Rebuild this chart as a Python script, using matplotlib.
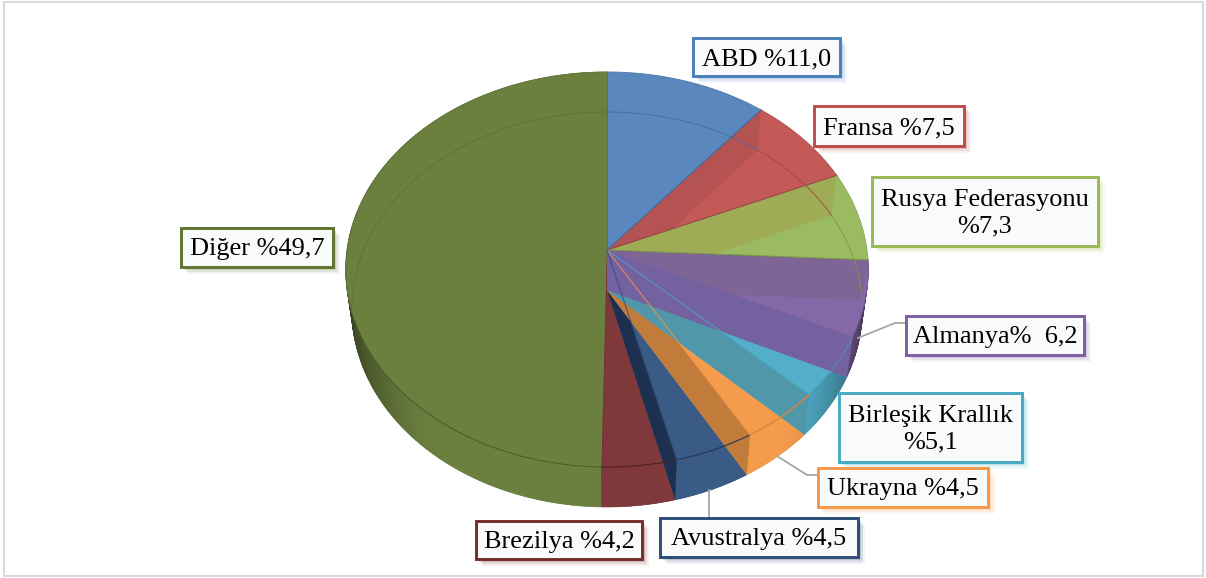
import numpy as np
import matplotlib
matplotlib.use("Agg")
import matplotlib.pyplot as plt
from matplotlib.colors import to_rgb
from matplotlib.patches import Polygon, Rectangle

# data, clockwise from the top
countries = ['ABD', 'Fransa', 'Rusya Federasyonu', 'Almanya', 'Birleşik Krallık', 'Ukrayna', 'Avustralya', 'Brezilya', 'Diğer']
shares = [11.0, 7.5, 7.3, 6.2, 5.1, 4.5, 4.5, 4.2, 49.7]
label_texts = ['ABD %11,0', 'Fransa %7,5', 'Rusya Federasyonu\n%7,3', 'Almanya%  6,2', 'Birleşik Krallık\n%5,1',
               'Ukrayna %4,5', 'Avustralya %4,5', 'Brezilya %4,2', 'Diğer %49,7']

# styles
top_colors = ['#5a87bd', '#c45a58', '#9bbb62', '#8568a8', '#52aec9', '#f49c4c', '#3a5b86', '#7f393b', '#6b7f3f']
start_band_colors = ['#5a87bd', '#b45352', '#9fac56', '#7f6596', '#52aec9', '#f49c4c', '#3a5b86', '#7f393b', '#6b7f3f']
end_band_colors = ['#5a87bd', '#c45a58', '#9bbb62', '#7461a0', '#5097a9', '#c17c3c', '#1d3050', '#74343a', '#6b7f3f']
edge_colors = ['#4a7ebb', '#be4b48', '#98b954', '#7d60a0', '#46aac5', '#f79646', '#2c4d75', '#772c2a', '#5f7530']

# box left, top, right, bottom in pixels
boxes = [(693, 38, 840, 76), (814, 106, 964, 146), (872, 177, 1098, 246), (906, 316, 1084, 355),
         (839, 393, 1022, 462), (818, 468, 988, 507), (660, 518, 858, 557), (476, 521, 642, 559), (181, 228, 333, 267)]
leaders = [([906, 895, 858], [323, 323, 338]), ([818, 807, 777], [475, 475, 456]), ([709, 709], [518, 490])]

cx = 607
top_cy = 250
bot_cy = 290
depth_k = 0.0987
ry = 195.6


def rim(theta, cy, rx):
    # perspective circle, the far side comes out smaller
    t = np.radians(theta)
    w = 1 + depth_k * np.cos(t)
    return cx + rx * np.sin(t) / w, cy - ry * np.cos(t) / w


def top_rim(theta):
    return rim(theta, top_cy, 260)


def bot_rim(theta):
    return rim(theta, bot_cy, 254)


def wedge(t0, t1, rim_func, cy):
    ts = np.linspace(t0, t1, 60)
    x, y = rim_func(ts)
    return np.column_stack([np.r_[cx, x], np.r_[cy, y]])


def shade(color, f):
    return tuple(min(1, c * f) for c in to_rgb(color))


def wall_shade(theta):
    s = abs(np.sin(np.radians(theta)))
    return 1 - 0.5 * max(0, (s - 0.62) / 0.38) ** 1.5


edges = np.r_[0, np.cumsum(shares)] / sum(shares) * 360
last = len(shares) - 1

fig = plt.figure(figsize=(12.06, 5.78), dpi=100)
ax = fig.add_axes([0, 0, 1, 1])
ax.set_xlim(0, 1206)
ax.set_ylim(578, 0)
ax.axis('off')

ax.add_patch(Rectangle((3.5, 1.5), 1199, 574, fc='white', ec='#d9d9d9', lw=1.5))

# far slices last would hide the walls, so paint Diğer first and go back round to ABD
for i in range(last, -1, -1):
    t0, t1 = edges[i], edges[i + 1]
    col = top_colors[i]
    front = t1 > 100

    if front:
        ax.add_patch(Polygon(wedge(t0, t1, bot_rim, bot_cy), fc=col, ec='none', zorder=2))
        # outer wall, thin strips so it can get darker towards the sides
        ts = np.linspace(t0, t1, max(int(t1 - t0), 2) + 1)
        for a, b in zip(ts[:-1], ts[1:]):
            x0, y0 = top_rim(a)
            x1, y1 = top_rim(b)
            x2, y2 = bot_rim(b)
            x3, y3 = bot_rim(a)
            c = shade(col, wall_shade((a + b) / 2))
            ax.add_patch(Polygon([(x0, y0), (x1, y1), (x2, y2), (x3, y3)], fc=c, ec=c, lw=0.4, zorder=2))

    top_patch = Polygon(wedge(t0, t1, top_rim, top_cy), fc=col, ec='none', zorder=2)
    ax.add_patch(top_patch)

    # wall on the start side, only seen through the top of the slice
    if t0 < 100 and i > 0:
        tx, ty = top_rim(t0)
        bx, by = bot_rim(t0)
        band = Polygon([(cx, top_cy), (tx, ty), (bx, by), (cx, bot_cy)], fc=start_band_colors[i], ec='none', zorder=2)
        ax.add_patch(band)
        band.set_clip_path(top_patch)

    # wall on the end side, on top of the next slice
    if 100 < t1 < 200:
        tx, ty = top_rim(t1)
        bx, by = bot_rim(t1)
        ax.add_patch(Polygon([(cx, top_cy), (tx, ty), (bx, by), (cx, bot_cy)], fc=end_band_colors[i], ec='none', zorder=2))

    # thin outlines
    if i == last:
        x, y = top_rim(np.linspace(t0, 250, 60))
        ax.plot(x, y, color=shade(col, 0.7), lw=0.7, zorder=3)
        x, y = top_rim(np.linspace(250, t1, 60))
        ax.plot(x, y, color=shade(col, 0.92), lw=0.6, zorder=3)
    elif t0 >= 130:
        x, y = top_rim(np.linspace(t0, t1, 60))
        ax.plot(x, y, color=shade(col, 0.6), lw=0.8, zorder=3)
    else:
        x, y = top_rim(np.linspace(t0, t1, 60))
        ax.plot(x, y, color=shade(col, 0.88), lw=0.6, zorder=3)
    for t in (t0, t1):
        tx, ty = top_rim(t)
        if t < 100:
            ax.plot([cx, tx], [top_cy, ty], color=shade(col, 0.8), lw=0.8, zorder=2)
    if t1 < 100:
        x, y = bot_rim(np.linspace(t0, t1, 60))
        ax.plot(x, y, color=shade(col, 0.8), lw=0.6, zorder=3)
    if i == last:
        x, y = bot_rim(np.linspace(265, t1, 60))
        ax.plot(x, y, color=shade(col, 0.88), lw=0.6, zorder=3)

# edges of the lower slices, they show through the slices above them
for i in range(3, 7):
    tx, ty = top_rim(edges[i + 1])
    ax.plot([cx, tx], [top_cy, ty], color=edge_colors[i], lw=0.9, alpha=0.7, zorder=4)
    if i == 5:
        x, y = top_rim(np.linspace(edges[i], edges[i + 1], 30))
        ax.plot(x, y, color=edge_colors[i], lw=0.9, alpha=0.8, zorder=4)

for (xs, ys) in leaders:
    ax.plot(xs, ys, color='#a6a6a6', lw=1.3, zorder=5)

for i, (l, t, r, b) in enumerate(boxes):
    for off, a in ((7, 0.07), (5, 0.12), (3, 0.18)):
        ax.add_patch(Rectangle((l + off, t + off), r - l, b - t, fc=edge_colors[i], ec='none', alpha=a, zorder=6))
    ax.add_patch(Rectangle((l, t), r - l, b - t, fc='#f9fafb', ec=edge_colors[i], lw=2.1, zorder=7))
    ax.text((l + r) / 2, (t + b) / 2 + 2, label_texts[i], ha='center', va='center', family='Liberation Serif',
            fontsize=19, color='black', linespacing=1.25, zorder=8)

fig.savefig('out.png', dpi=100)
